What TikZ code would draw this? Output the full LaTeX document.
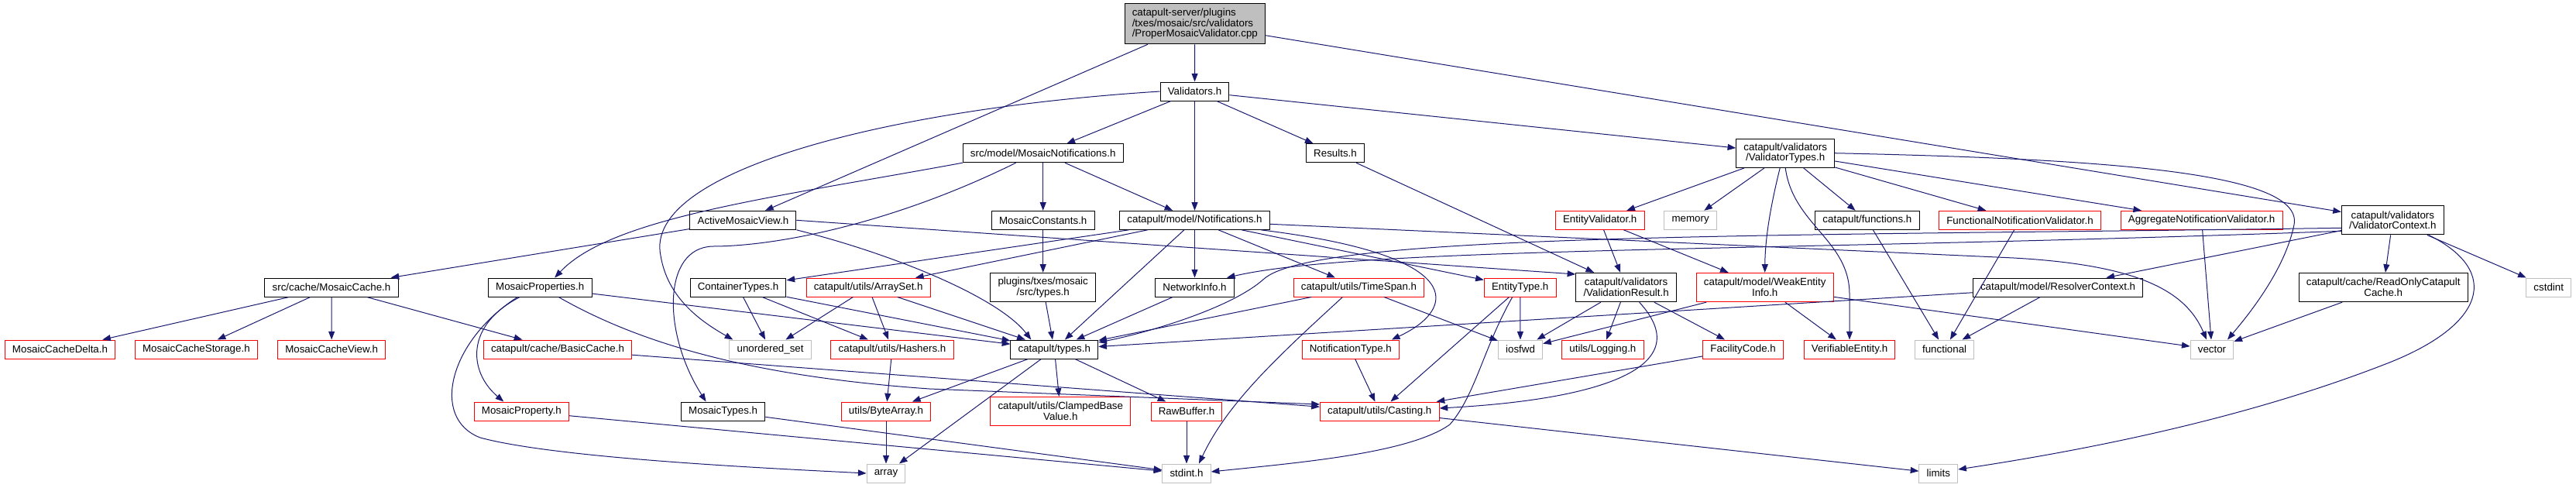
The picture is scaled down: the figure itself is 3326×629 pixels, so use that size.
\documentclass[tikz,border=0pt]{standalone}
\usepackage{fontspec}
\setmainfont{Liberation Sans}
\usetikzlibrary{arrows.meta,calc}

\definecolor{edgeblue}{HTML}{191970}
\definecolor{sysgray}{HTML}{BFBFBF}

\tikzset{
  header/.style={draw=black, line width=0.75pt, fill=white, rectangle,
    inner xsep=7.3pt, inner ysep=1.5pt, minimum height=18pt, align=center,
    font=\fontsize{10}{10.2}\selectfont},
  trunc/.style={header, draw=red},
  sysinc/.style={header, draw=sysgray},
  twoline/.style={minimum height=28pt},
  rootfile/.style={header, fill=sysgray, align=left, minimum height=39pt},
  inc/.style={draw=edgeblue, line width=0.75pt, -{Triangle[length=8pt, width=6pt]}},
}

\begin{document}
\begin{tikzpicture}[x=0.75pt, y=-0.75pt]

	\useasboundingbox (0,0) rectangle (3326,629);

	% Rows
	\def\rowroot{30.8}
	\def\rowone{118}
	\def\rowtwo{197.7}
	\def\rowthree{284.3}
	\def\rowfour{371}
	\def\rowfive{451}
	\def\rowsix{531}
	\def\rowseven{611}

	% Root
	\node[rootfile] (root) at (1542.8,\rowroot) {catapult-server/plugins\\/txes/mosaic/src/validators\\/ProperMosaicValidator.cpp};

	% Row 1
	\node[header] (validators) at (1542.5,\rowone) {Validators.h};

	% Row 2
	\node[header] (mosaicnotif) at (1346.7,\rowtwo) {src/model/MosaicNotifications.h};
	\node[header] (results) at (1724,\rowtwo) {Results.h};
	\node[header, twoline] (valtypes) at (2305.2,\rowtwo) {catapult/validators\\/ValidatorTypes.h};

	% Row 3
	\node[header] (activeview) at (959.4,\rowthree) {ActiveMosaicView.h};
	\node[header] (mosaicconst) at (1346.7,\rowthree) {MosaicConstants.h};
	\node[header] (notifications) at (1542.5,\rowthree) {catapult/model/Notifications.h};
	\node[trunc] (entityvalidator) at (2065.7,\rowthree) {EntityValidator.h};
	\node[sysinc] (memory) at (2182.6,\rowthree) {memory};
	\node[header] (functions) at (2410.9,\rowthree) {catapult/functions.h};
	\node[trunc] (functionalnv) at (2608,\rowthree) {FunctionalNotificationValidator.h};
	\node[trunc] (aggregatenv) at (2842.6,\rowthree) {AggregateNotificationValidator.h};
	\node[header, twoline] (valcontext) at (3089.3,\rowthree) {catapult/validators\\/ValidatorContext.h};

	% Row 4
	\node[header] (mosaiccache) at (428,\rowfour) {src/cache/MosaicCache.h};
	\node[header] (mosaicprops) at (697.2,\rowfour) {MosaicProperties.h};
	\node[header] (containertypes) at (953,\rowfour) {ContainerTypes.h};
	\node[trunc] (arrayset) at (1121.2,\rowfour) {catapult/utils/ArraySet.h};
	\node[header, twoline] (plugintypes) at (1346.7,\rowfour) {plugins/txes/mosaic\\/src/types.h};
	\node[header] (networkinfo) at (1542.5,\rowfour) {NetworkInfo.h};
	\node[trunc] (timespan) at (1754.5,\rowfour) {catapult/utils/TimeSpan.h};
	\node[trunc] (entitytype) at (1962.7,\rowfour) {EntityType.h};
	\node[header, twoline] (valresult) at (2099.6,\rowfour) {catapult/validators\\/ValidationResult.h};
	\node[trunc, twoline] (weakentity) at (2278.7,\rowfour) {catapult/model/WeakEntity\\Info.h};
	\node[header] (resolver) at (2657.1,\rowfour) {catapult/model/ResolverContext.h};
	\node[header, twoline] (readonlycache) at (3077.2,\rowfour) {catapult/cache/ReadOnlyCatapult\\Cache.h};
	\node[sysinc] (cstdint) at (3290.7,\rowfour) {cstdint};

	% Row 5
	\node[trunc] (cachedelta) at (77.5,\rowfive) {MosaicCacheDelta.h};
	\node[trunc] (cachestorage) at (253.4,\rowfive) {MosaicCacheStorage.h};
	\node[trunc] (cacheview) at (428.2,\rowfive) {MosaicCacheView.h};
	\node[trunc] (basiccache) at (720,\rowfive) {catapult/cache/BasicCache.h};
	\node[sysinc] (unorderedset) at (994.6,\rowfive) {unordered\_set};
	\node[trunc] (hashers) at (1152,\rowfive) {catapult/utils/Hashers.h};
	\node[header] (types) at (1361.3,\rowfive) {catapult/types.h};
	\node[trunc] (notiftype) at (1743.8,\rowfive) {NotificationType.h};
	\node[sysinc] (iosfwd) at (1963,\rowfive) {iosfwd};
	\node[trunc] (logging) at (2069.4,\rowfive) {utils/Logging.h};
	\node[trunc] (facility) at (2250.6,\rowfive) {FacilityCode.h};
	\node[trunc] (verifiable) at (2388,\rowfive) {VerifiableEntity.h};
	\node[sysinc] (functional) at (2510.6,\rowfive) {functional};
	\node[sysinc] (vector) at (2856,\rowfive) {vector};

	% Row 6
	\node[trunc] (mosaicproperty) at (673.3,\rowsix) {MosaicProperty.h};
	\node[header] (mosaictypes) at (933.6,\rowsix) {MosaicTypes.h};
	\node[trunc] (bytearray) at (1144,\rowsix) {utils/ByteArray.h};
	\node[trunc, twoline] (clamped) at (1369.3,\rowsix) {catapult/utils/ClampedBase\\Value.h};
	\node[trunc] (rawbuffer) at (1532,\rowsix) {RawBuffer.h};
	\node[trunc] (casting) at (1781.3,\rowsix) {catapult/utils/Casting.h};

	% Row 7
	\node[sysinc] (array) at (1144,\rowseven) {array};
	\node[sysinc] (stdint) at (1532,\rowseven) {stdint.h};
	\node[sysinc] (limits) at (2502.8,\rowseven) {limits};

	% Includes
	% ProperMosaicValidator.cpp
	\draw[inc] (root) -- (validators);
	\draw[inc] (root) -- (activeview);
	\draw[inc] (root) -- (valcontext);

	% Validators.h
	\draw[inc] (validators) -- (mosaicnotif);
	\draw[inc] (validators) -- (notifications);
	\draw[inc] (validators) -- (results);
	\draw[inc] (validators) -- (valtypes);
	\draw[inc] (validators.west) .. controls (1150,140) and (830,220) .. (853,330) .. controls (862,385) and (905,415) .. ($(unorderedset.north west)+(5,0)$);

	% MosaicNotifications.h
	\draw[inc] (mosaicnotif) -- (mosaicconst);
	\draw[inc] (mosaicnotif) -- (notifications);
	\draw[inc] (mosaicnotif.south west) .. controls (1000,255) and (790,280) .. ($(mosaicprops.north)+(19,0)$);
	\draw[inc] ($(mosaicnotif.south)+(-35,0)$) .. controls (1150,290) and (1000,318) .. (920,318) .. controls (855,320) and (855,430) .. ($(mosaictypes.north)+(-22,0)$);

	% ActiveMosaicView.h
	\draw[inc] (activeview) -- (mosaiccache);
	\draw[inc] (activeview.south east) .. controls (1160,330) and (1290,385) .. ($(types.north)+(-30,0)$);
	\draw[inc] (activeview.east) -- ($(valresult.west)+(0,-17)$);

	% MosaicConstants.h
	\draw[inc] (mosaicconst) -- (plugintypes);

	% Notifications.h
	\draw[inc] (notifications) -- (containertypes);
	\draw[inc] (notifications) -- (arrayset);
	\draw[inc] (notifications) -- (types);
	\draw[inc] (notifications) -- (networkinfo);
	\draw[inc] (notifications) -- (timespan);
	\draw[inc] (notifications) -- (entitytype);
	\draw[inc] ($(notifications.south east)+(-12,0)$) .. controls (1900,330) and (1880,400) .. ($(notiftype.north)+(53,0)$);
	\draw[inc] ($(notifications.east)+(0,5)$) -- (2600,333) .. controls (2760,342) and (2822,375) .. ($(vector.north)+(-7,0)$);

	% ValidatorTypes.h
	\draw[inc] (valtypes) -- (entityvalidator);
	\draw[inc] (valtypes) -- (memory);
	\draw[inc] (valtypes) -- (functions);
	\draw[inc] (valtypes) -- (functionalnv);
	\draw[inc] (valtypes) -- (aggregatenv);
	\draw[inc] ($(valtypes.south)+(-7,0)$) .. controls (2285,270) and (2279,310) .. (weakentity.north);
	\draw[inc] (valtypes.south) .. controls (2315,290) and (2388,310) .. (2388,380) -- (verifiable.north);
	\draw[inc] (valtypes.east) .. controls (2700,205) and (2975,220) .. (2962,290) .. controls (2950,350) and (2900,410) .. ($(vector.north)+(20,0)$);

	% EntityValidator.h, Results.h
	\draw[inc] (entityvalidator) -- (valresult);
	\draw[inc] (entityvalidator) -- (weakentity);
	\draw[inc] (results) -- (valresult);

	% functions, validators
	\draw[inc] (functions) -- (functional);
	\draw[inc] (functionalnv) -- (functional);
	\draw[inc] (aggregatenv) -- (vector);

	% ValidatorContext.h
	\draw[inc] ($(valcontext.west)+(0,10)$) .. controls (2300,305) and (1700,300) .. (1632,360) .. controls (1590,398) and (1480,430) .. ($(types.east)+(0,-9)$);
	\draw[inc] ($(valcontext.west)+(0,14)$) .. controls (2300,325) and (1760,318) .. ($(networkinfo.north east)+(-10,0)$);
	\draw[inc] (valcontext) -- (resolver);
	\draw[inc] (valcontext) -- (readonlycache);
	\draw[inc] (valcontext) -- (cstdint);
	\draw[inc] ($(valcontext.south east)+(-20,0)$) .. controls (3230,350) and (3210,420) .. (3080,470) .. controls (2900,540) and (2700,580) .. ($(limits.east)+(0,-5)$);

	% ResolverContext.h, ReadOnlyCatapultCache.h
	\draw[inc] (resolver) -- (types);
	\draw[inc] (resolver) -- (functional);
	\draw[inc] (readonlycache) -- (vector);

	% WeakEntityInfo.h
	\draw[inc] (weakentity) -- (iosfwd);
	\draw[inc] (weakentity) -- (verifiable);
	\draw[inc] (weakentity) -- (vector);

	% ValidationResult.h
	\draw[inc] (valresult) -- (iosfwd);
	\draw[inc] (valresult) -- (logging);
	\draw[inc] (valresult) -- (facility);
	\draw[inc] ($(valresult.south)+(17,0)$) .. controls (2190,470) and (2080,515) .. ($(casting.east)+(0,-4)$);

	% EntityType.h
	\draw[inc] (entitytype) -- (iosfwd);
	\draw[inc] (entitytype) -- (casting);
	\draw[inc] ($(entitytype.south)+(-10,0)$) .. controls (1915,450) and (1905,510) .. (1872,548) .. controls (1820,585) and (1680,597) .. ($(stdint.east)+(0,-2)$);

	% TimeSpan.h
	\draw[inc] (timespan) -- (types);
	\draw[inc] (timespan) -- (iosfwd);
	\draw[inc] ($(timespan.south)+(-21,0)$) .. controls (1650,460) and (1585,520) .. ($(stdint.north)+(16,0)$);

	% NotificationType.h, FacilityCode.h, Casting.h
	\draw[inc] (notiftype) -- (casting);
	\draw[inc] (facility) -- (casting);
	\draw[inc] (casting) -- (limits);

	% MosaicCache.h
	\draw[inc] (mosaiccache) -- (cachedelta);
	\draw[inc] (mosaiccache) -- (cachestorage);
	\draw[inc] (mosaiccache) -- (cacheview);
	\draw[inc] (mosaiccache) -- (basiccache);

	% MosaicProperties.h
	\draw[inc] (mosaicprops) -- (types);
	\draw[inc] ($(mosaicprops.south)+(-26,0)$) .. controls (600,420) and (605,480) .. ($(mosaicproperty.north)+(-23,0)$);
	\draw[inc] ($(mosaicprops.south)+(-29,0)$) .. controls (580,440) and (555,540) .. (620,565) .. controls (720,592) and (1000,605) .. (array.west);
	\draw[inc] ($(mosaicprops.south)+(24,0)$) .. controls (820,440) and (960,485) .. (1200,502) -- ($(casting.west)+(0,-9)$);

	% BasicCache.h, MosaicTypes.h, MosaicProperty.h
	\draw[inc] (basiccache) -- (casting);
	\draw[inc] (mosaictypes) -- (stdint);
	\draw[inc] (mosaicproperty) -- (stdint);

	% ContainerTypes.h
	\draw[inc] (containertypes) -- (unorderedset);
	\draw[inc] (containertypes) -- (hashers);
	\draw[inc] (containertypes) -- (types);

	% ArraySet.h
	\draw[inc] (arrayset) -- (unorderedset);
	\draw[inc] (arrayset) -- (hashers);
	\draw[inc] (arrayset) -- (types);

	% types
	\draw[inc] (plugintypes) -- (types);
	\draw[inc] (networkinfo) -- (types);
	\draw[inc] (hashers) -- (bytearray);
	\draw[inc] (bytearray) -- (array);
	\draw[inc] (types) -- (bytearray);
	\draw[inc] (types) -- (array);
	\draw[inc] (types) -- (clamped);
	\draw[inc] (types) -- (rawbuffer);
	\draw[inc] (rawbuffer) -- (stdint);

\end{tikzpicture}
\end{document}
